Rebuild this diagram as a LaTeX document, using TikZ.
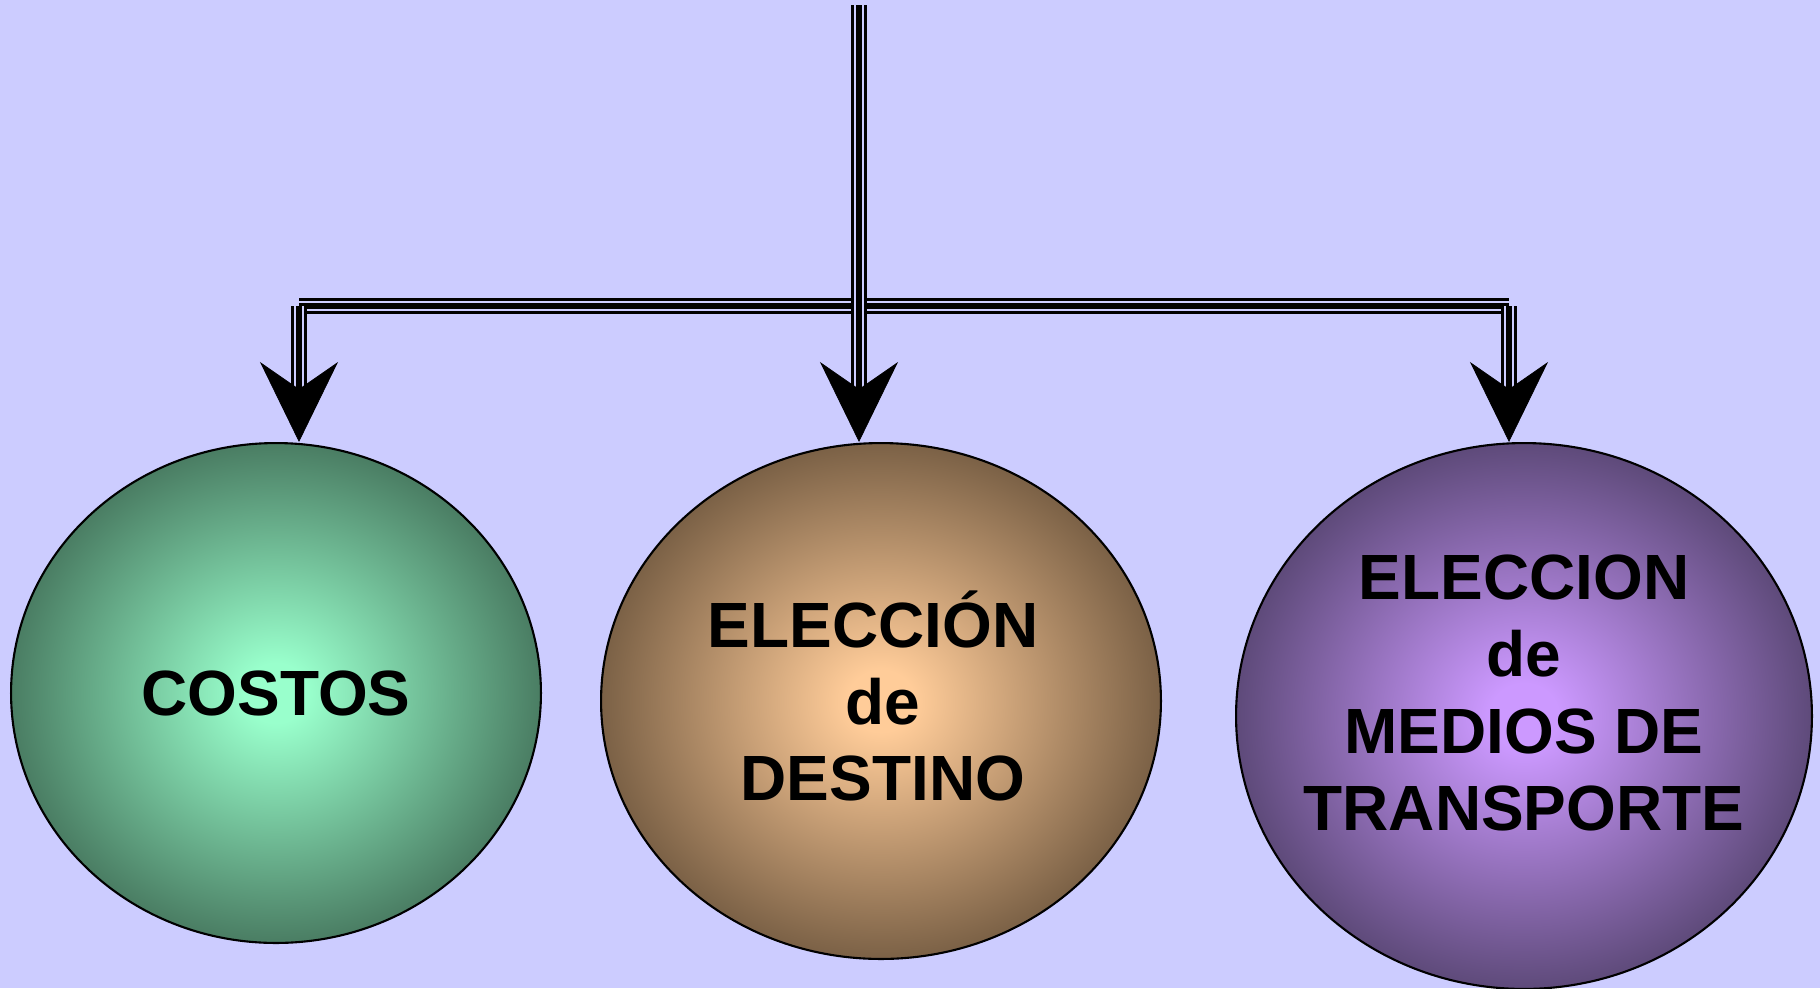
\documentclass[tikz,border=0pt]{standalone}
\usepackage{fontspec}
\setmainfont{Liberation Sans}
\usetikzlibrary{arrows.meta,shapes.geometric}
\definecolor{bgblue}{HTML}{CCCCFF}
\definecolor{costosin}{HTML}{99FFCC}
\definecolor{costosout}{HTML}{4A7D63}
\definecolor{destinoin}{HTML}{FFCC99}
\definecolor{destinoout}{HTML}{7B6146}
\definecolor{mediosin}{HTML}{CC99FF}
\definecolor{mediosout}{HTML}{5E4A7A}
\pgfdeclareradialshading{costosball}{\pgfpoint{0bp}{0bp}}{color(0bp)=(costosin); color(3bp)=(costosin); color(25bp)=(costosout); color(50bp)=(costosout)}
\pgfdeclareradialshading{destinoball}{\pgfpoint{0bp}{0bp}}{color(0bp)=(destinoin); color(3bp)=(destinoin); color(25bp)=(destinoout); color(50bp)=(destinoout)}
\pgfdeclareradialshading{mediosball}{\pgfpoint{0bp}{0bp}}{color(0bp)=(mediosin); color(3bp)=(mediosin); color(25bp)=(mediosout); color(50bp)=(mediosout)}
\tikzset{
	ball/.style={ellipse, draw=black, line width=1.2pt, inner sep=0pt},
	balltext/.style={align=center, font=\fontsize{36.4}{43.8}\selectfont\bfseries},
	tripleline/.style={draw=black, line width=1.6pt, double=bgblue, double distance=6.1pt,
			postaction={draw=black, line width=3.2pt}},
	bigtip/.style={-{Stealth[length=1.6cm, width=1.56cm, inset=0.54cm]}, line width=0.4pt}
}

\begin{document}
\begin{tikzpicture}[x=0.02cm, y=-0.02cm]
        \fill[bgblue] (0,0) rectangle (1820,988);
        \useasboundingbox (0,0) rectangle (1820,988);
        % ellipses
        \node[ball, shading=costosball, minimum width=10.6cm, minimum height=10cm] (costos) at (276,693) {};
        \node[ball, shading=destinoball, minimum width=11.2cm, minimum height=10.32cm] (destino) at (881,701) {};
        \node[ball, shading=mediosball, minimum width=11.52cm, minimum height=10.92cm] (medios) at (1524,716) {};
        \node[balltext] (costos_t) at (costos) {COSTOS};
        \node[balltext] (destino_t) at (878,696) {ELECCIÓN\hspace*{0.15em}\\\hspace*{0.15em}de\\\hspace*{0.15em}DESTINO};
        \node[balltext] (medios_t) at (1524,693) {ELECCION\\de\\MEDIOS DE\\TRANSPORTE};
        % connectors
        \coordinate (top) at (859,5);
        \coordinate (bar_w) at (299,306);
        \coordinate (bar_e) at (1509,306);
        \coordinate (costos_in) at (costos.north -| bar_w);
        \coordinate (destino_in) at (destino.north -| top);
        \coordinate (medios_in) at (medios.north -| bar_e);
        \draw[tripleline] (bar_w) -- (bar_e);
        \draw[tripleline, shorten >=0.7cm] (top) -- (destino_in);
        \draw[tripleline, shorten >=0.7cm] (bar_w) -- (costos_in);
        \draw[tripleline, shorten >=0.7cm] (bar_e) -- (medios_in);
        \draw[bigtip] (bar_w) -- (costos_in);
        \draw[bigtip] (top) -- (destino_in);
        \draw[bigtip] (bar_e) -- (medios_in);
\end{tikzpicture}
\end{document}
